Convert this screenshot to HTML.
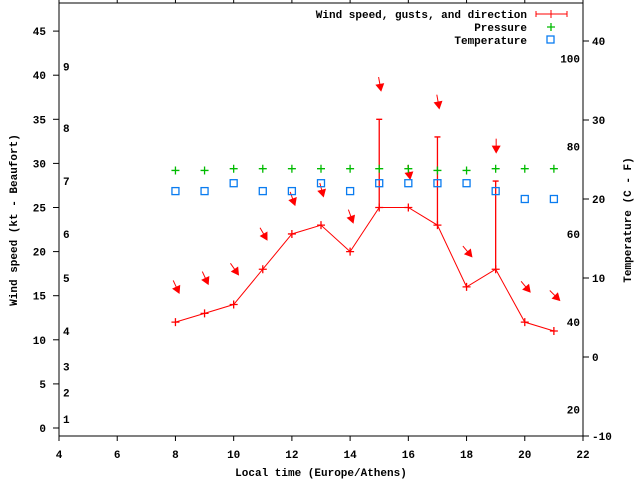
<!DOCTYPE html>
<html><head><meta charset="utf-8">
<style>
html,body{margin:0;padding:0;background:#fff;}
svg{display:block;font-family:"Liberation Mono","DejaVu Sans Mono",monospace;font-weight:bold;font-size:11px;}
</style></head>
<body>
<svg id="chart" width="640" height="480" viewBox="0 0 640 480" xmlns="http://www.w3.org/2000/svg">
<g id="axes"></g>
<g id="marks"></g>
<text transform="translate(17,220) rotate(-90)" text-anchor="middle">Wind speed (kt - Beaufort)</text>
<text transform="translate(631,220) rotate(-90)" text-anchor="middle">Temperature (C - F)</text>
<text x="321" y="476" text-anchor="middle">Local time (Europe/Athens)</text>
<g>
<text x="527" y="18" text-anchor="end">Wind speed, gusts, and direction</text>
<line x1="536" y1="14" x2="567" y2="14" stroke="#f00"/><line x1="551" y1="10" x2="551" y2="18" stroke="#f00"/>
<line x1="536" y1="11" x2="536" y2="17" stroke="#f00"/><line x1="567" y1="11" x2="567" y2="17" stroke="#f00"/>
<text x="527" y="31" text-anchor="end">Pressure</text>
<path d="M547 27h8M551 23v8" stroke="#0b0" stroke-width="1.3"/>
<text x="527" y="44" text-anchor="end">Temperature</text>
<rect x="547" y="36" width="7" height="7" fill="none" stroke="#0a7cf0" stroke-width="1.3"/>
</g>
</svg>
<script>
const hours=[8,9,10,11,12,13,14,15,16,17,18,19,20,21];
const windSpeed=[12,13,14,18,22,23,20,25,25,23,16,18,12,11];
const gusts=[null,null,null,null,null,null,null,35,null,33,null,28,null,null];
const windDir=[335,335,325,330,340,345,340,350,350,350,320,0,320,315];
const pressure=[29.2,29.2,29.4,29.4,29.4,29.4,29.4,29.4,29.4,29.2,29.2,29.4,29.4,29.4];
const temperature=[21,21,22,21,21,22,21,22,22,22,22,21,20,20];
const xTicks=[4,6,8,10,12,14,16,18,20,22];
const yTicks=[0,5,10,15,20,25,30,35,40,45];
const tTicks=[-10,0,10,20,30,40];
const beaufortLabels=["1","2","3","4","5","6","7","8","9"];
const beaufortKt=[1,4,7,11,17,22,28,34,41];
const fLabels=["20","40","60","80","100"];
const fValues=[20,40,60,80,100];

const L=59,R=583,T=3,B=436;
const X=h=>L+(h-4)*(R-L)/18;
const Y=v=>428-v*8.82;
const TY=c=>436-(c+10)*7.9;
const NS="http://www.w3.org/2000/svg";
function mk(tag,attrs,parent,txt){const e=document.createElementNS(NS,tag);for(const k in attrs)e.setAttribute(k,attrs[k]);if(txt!==undefined)e.textContent=txt;parent.appendChild(e);return e;}
const ax=document.getElementById('axes'),mg=document.getElementById('marks');
let e=mk('rect',{x:L,y:T,width:R-L,height:B-T,fill:'none',stroke:'#000'},ax);


xTicks.forEach(h=>{
  mk('line',{x1:X(h),y1:B,x2:X(h),y2:B+5,stroke:'#000'},ax);
  mk('line',{x1:X(h),y1:T,x2:X(h),y2:0,stroke:'#000'},ax);
  const t=mk('text',{x:X(h),y:458,'text-anchor':'middle'},ax,String(h));
  
  
});
yTicks.forEach(v=>{
  mk('line',{x1:L-6,y1:Y(v),x2:L,y2:Y(v),stroke:'#000'},ax);
  const t=mk('text',{x:46,y:Y(v)+4,'text-anchor':'end'},ax,String(v));
  
  
});
tTicks.forEach(c=>{
  mk('line',{x1:R,y1:TY(c),x2:R+6,y2:TY(c),stroke:'#000'},ax);
  const t=mk('text',{x:592,y:TY(c)+4,'text-anchor':'start'},ax,String(c));
  
  
});
beaufortLabels.forEach((s,i)=>{
  const t=mk('text',{x:63,y:Y(beaufortKt[i])+4},ax,s);
  
  
});
fLabels.forEach((s,i)=>{
  const c=(fValues[i]-32)*5/9;
  const t=mk('text',{x:580,y:TY(c)+4,'text-anchor':'end'},ax,s);
  
  
});
const pl=mk('polyline',{points:hours.map((h,i)=>X(h)+','+Y(windSpeed[i])).join(' '),fill:'none',stroke:'#f00'},mg);


hours.forEach((h,i)=>{
  const x=X(h),y=Y(windSpeed[i]);
  const p=mk('path',{d:`M${x-4} ${y}h8M${x} ${y-4}v8`,stroke:'#f00','stroke-width':1.3},mg);
  
  
  if(gusts[i]!==null){
    const g=mk('path',{d:`M${x} ${y}V${Y(gusts[i])}M${x-3} ${Y(gusts[i])}h6`,stroke:'#f00','stroke-width':1.3},mg);
    
    
  }
  const top=Math.max(windSpeed[i],gusts[i]||0)+3.5;
  const ay=Y(top)-5, a=(windDir[i]+180)*Math.PI/180;
  const dx=Math.sin(a),dy=-Math.cos(a),len=13;
  const hx=x+0.5+dx*len/2,hy=ay+dy*len/2,tx=x+0.5-dx*len/2,ty=ay-dy*len/2;
  const px=-dy,py=dx;
  const ar=mk('g',{},mg);
  
  
  mk('line',{x1:tx,y1:ty,x2:hx,y2:hy,stroke:'#f00'},ar);
  mk('polygon',{points:`${hx+dx*2},${hy+dy*2} ${hx-dx*6+px*4.5},${hy-dy*6+py*4.5} ${hx-dx*6-px*4.5},${hy-dy*6-py*4.5}`,fill:'#f00'},ar);
  const q=mk('path',{d:`M${x-4} ${Y(pressure[i])}h8M${x} ${Y(pressure[i])-4}v8`,stroke:'#0b0','stroke-width':1.3},mg);
  
  
  const r=mk('rect',{x:x-3.5,y:TY(temperature[i])-3.5,width:7,height:7,fill:'none',stroke:'#0a7cf0','stroke-width':1.3},mg);
  
  
});
</script>
</body></html>
